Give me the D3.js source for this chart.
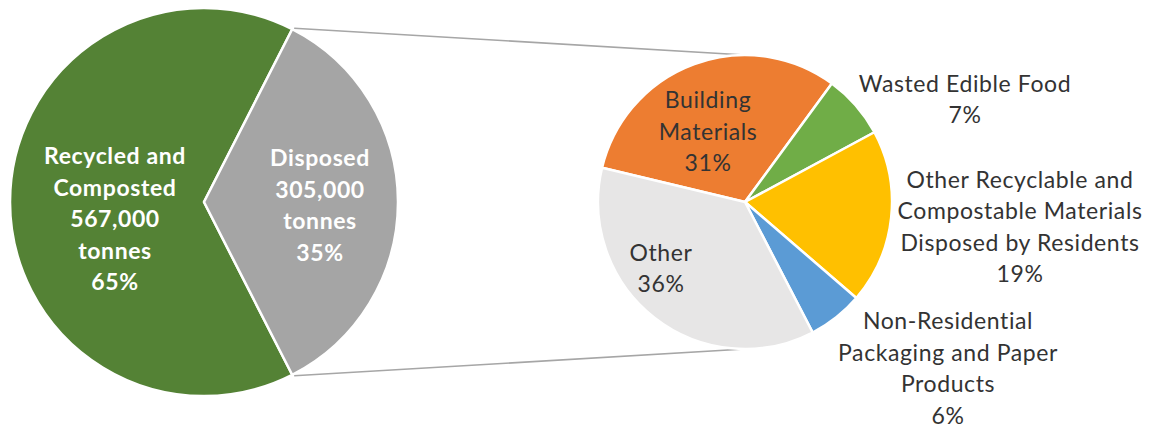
<!DOCTYPE html>
<html>
<head>
<meta charset="utf-8">
<script src="https://cdn.jsdelivr.net/npm/d3@7"></script>
<style>
  body { margin: 0; background: #fff; }
  text { font-family: "Lato", "Open Sans", sans-serif; }
</style>
</head>
<body>
<svg id="chart" width="1153" height="429"></svg>
<script>
// main pie: tonnes
const mainNames = ["Recycled and Composted", "Disposed"];
const mainTonnes = [567000, 305000];
const mainPct = [65, 35];

// breakdown of disposed waste, percent
const subNames = ["Building Materials", "Wasted Edible Food",
    "Other Recyclable and Compostable Materials Disposed by Residents",
    "Non-Residential Packaging and Paper Products", "Other"];
const subPct = [31, 7, 19, 6, 36];

const mainColors = ["#548235", "#A5A5A5"];
const subColors = ["#ED7D31", "#70AD47", "#FFC000", "#5B9BD5", "#E7E6E6"];

// label lines (what gets written, not where)
const mainLabels = [
    ["Recycled and", "Composted", "567,000", "tonnes", "65%"],
    ["Disposed", "305,000", "tonnes", "35%"]
];
const subLabels = [
    ["Building", "Materials", "31%"],
    ["Wasted Edible Food", "7%"],
    ["Other Recyclable and", "Compostable Materials", "Disposed by Residents", "19%"],
    ["Non-Residential", "Packaging and Paper", "Products", "6%"],
    ["Other", "36%"]
];

const MAIN_CX = 204, MAIN_CY = 202, MAIN_R = 194;
const SUB_CX = 745, SUB_CY = 202, SUB_R = 147;
const LINE_H = 31.5;

// label block centres, offset from the pie centre
const mainLabelPos = [[-89, 17], [116, 3.5]];
const subLabelPos = [[-37, -70.5], [220, -102.5], [275, 25], [203, 166.5], [-84, 66.5]];

const svg = d3.select("#chart");

// ---- main pie ----
const mainTotal = d3.sum(mainTonnes);
const disposedAngle = 2 * Math.PI * mainTonnes[1] / mainTotal;
const mainPie = d3.pie().sort(null)
    .startAngle(Math.PI / 2 + disposedAngle / 2)
    .endAngle(Math.PI / 2 + disposedAngle / 2 + 2 * Math.PI);
const mainArcs = mainPie(mainTonnes);
const mainArc = d3.arc().innerRadius(0).outerRadius(MAIN_R);

const gMain = svg.append("g").attr("transform", `translate(${MAIN_CX},${MAIN_CY})`);
gMain.selectAll("path")
    .data(mainArcs).enter()
    .append("path")
    .attr("d", mainArc)
    .attr("fill", (d, i) => mainColors[i])
    .attr("stroke", "#fff")
    .attr("stroke-width", 2.5)
    .attr("stroke-linejoin", "round");

// ---- sub pie ----
const subStart = -76.5 * Math.PI / 180;
const subPie = d3.pie().sort(null)
    .startAngle(subStart)
    .endAngle(subStart + 2 * Math.PI);
const subArcs = subPie(subPct);
const subArc = d3.arc().innerRadius(0).outerRadius(SUB_R);

// ---- connector lines: ends of the disposed slice to top / bottom of sub pie ----
const d = mainArcs[1];
const p1 = [MAIN_CX + MAIN_R * Math.sin(d.startAngle), MAIN_CY - MAIN_R * Math.cos(d.startAngle)];
const p2 = [MAIN_CX + MAIN_R * Math.sin(d.endAngle), MAIN_CY - MAIN_R * Math.cos(d.endAngle)];
svg.append("line")
    .attr("x1", p1[0] + 2).attr("y1", p1[1] - 1)
    .attr("x2", SUB_CX).attr("y2", SUB_CY - SUB_R)
    .attr("stroke", "#A6A6A6").attr("stroke-width", 1.6);
svg.append("line")
    .attr("x1", p2[0] + 2).attr("y1", p2[1] + 1)
    .attr("x2", SUB_CX).attr("y2", SUB_CY + SUB_R)
    .attr("stroke", "#A6A6A6").attr("stroke-width", 1.6);

const gSub = svg.append("g").attr("transform", `translate(${SUB_CX},${SUB_CY})`);
gSub.selectAll("path")
    .data(subArcs).enter()
    .append("path")
    .attr("d", subArc)
    .attr("fill", (d, i) => subColors[i])
    .attr("stroke", "#fff")
    .attr("stroke-width", 2.5)
    .attr("stroke-linejoin", "round");

// ---- labels ----
function drawLabel(g, lines, pos, color, weight) {
    const n = lines.length;
    const t = g.append("text")
        .attr("text-anchor", "middle")
        .attr("font-size", 23)
        .attr("letter-spacing", 0.6)
        .attr("font-weight", weight)
        .attr("fill", color);
    lines.forEach((s, k) => {
        t.append("tspan")
            .attr("x", pos[0])
            .attr("y", pos[1] + (k - (n - 1) / 2) * LINE_H + 8)
            .text(s);
    });
}

mainLabels.forEach((lines, i) => drawLabel(gMain, lines, mainLabelPos[i], "#fff", "bold"));
subLabels.forEach((lines, i) => drawLabel(gSub, lines, subLabelPos[i], "#333", "normal"));
</script>
</body>
</html>
